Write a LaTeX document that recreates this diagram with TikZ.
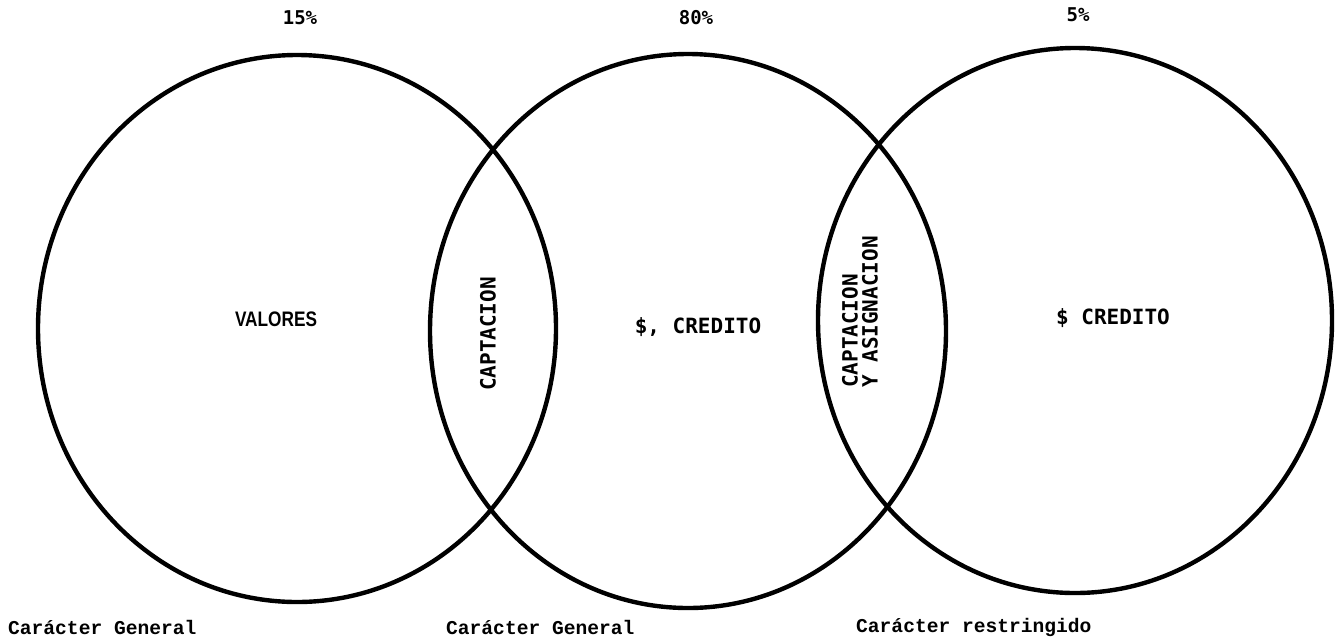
\documentclass[tikz,border=0pt]{standalone}
\usepackage{fontspec}
\setmainfont{Liberation Sans}
\newfontfamily\inmono{DejaVu Sans Mono}
\newfontfamily\typew{Liberation Mono}
\tikzset{
  ring/.style={line width=4.4pt},
  pct/.style={font=\inmono\bfseries\fontsize{19}{20}\selectfont, inner sep=0pt},
  inlabel/.style={font=\inmono\bfseries\fontsize{21}{20}\selectfont, inner sep=0pt},
  sanslabel/.style={font=\bfseries\fontsize{21}{22}\selectfont, inner sep=0pt, xscale=0.82},
  caption/.style={font=\typew\bfseries\fontsize{19.6}{20}\selectfont, inner sep=0pt, anchor=west},
}
\begin{document}
\begin{tikzpicture}[x=1pt,y=-1pt]
\useasboundingbox (0,0) rectangle (1338,641);
% circles
\draw[ring] (297,328.5) ellipse [x radius=259, y radius=273.5];
\draw[ring] (688,331) ellipse [x radius=258, y radius=277];
\draw[ring] (1075,320.5) ellipse [x radius=257, y radius=272.5];
% percentages
\node[pct] (p1) at (300,18) {15\%};
\node[pct] (p2) at (696,18) {80\%};
\node[pct] (p3) at (1078,15) {5\%};
% inner labels
\node[sanslabel] (valores) at (276,319) {VALORES};
\node[inlabel, rotate=90] (capt) at (488,334) {CAPTACION};
\node[inlabel] (cred1) at (698,327) {\$,\hspace{0.6em}CREDITO};
\node[inlabel, rotate=90, anchor=center, align=left] (captasig) at (860,312) {CAPTACION\\Y ASIGNACION};
\node[inlabel] (cred2) at (1113,318) {\$\hspace{0.6em}CREDITO};
% captions
\node[caption] (c1) at (8,627) {Carácter General};
\node[caption] (c2) at (446,627) {Carácter General};
\node[caption] (c3) at (856,627) {Carácter restringido};
\end{tikzpicture}
\end{document}
